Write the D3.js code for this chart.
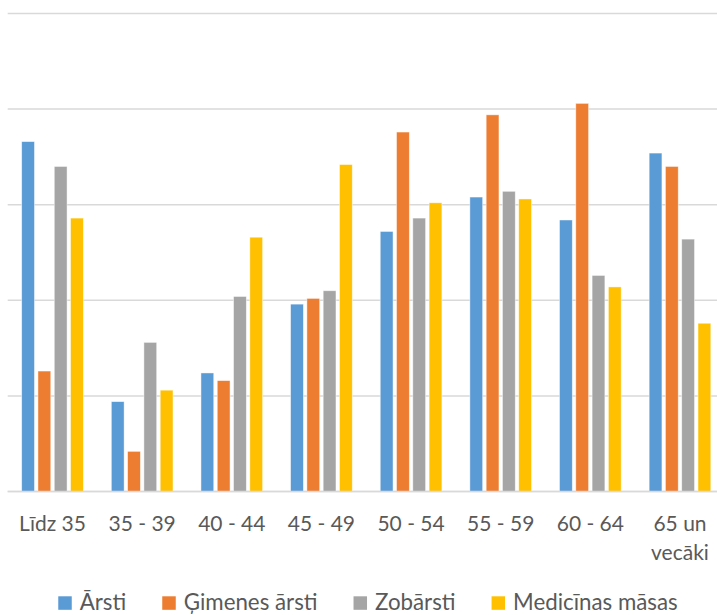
<!DOCTYPE html>
<html>
<head>
<meta charset="utf-8">
<script src="https://cdn.jsdelivr.net/npm/d3@7/dist/d3.min.js"></script>
<style>
  html, body { margin: 0; padding: 0; background: #fff; }
  svg { display: block; }
  text { font-family: Lato, "Open Sans", sans-serif; fill: #595959; }
</style>
</head>
<body>
<svg id="chart" width="717" height="615"></svg>
<script>
// ---- data ----
const categories = ["Līdz 35", "35 - 39", "40 - 44", "45 - 49", "50 - 54", "55 - 59", "60 - 64", "65 un vecāki"];
const seriesNames = ["Ārsti", "Ģimenes ārsti", "Zobārsti", "Medicīnas māsas"];
const arsti       = [18.3, 4.7, 6.2, 9.8, 13.6, 15.4, 14.2, 17.7];
const gimenes     = [6.3, 2.1, 5.8, 10.1, 18.8, 19.7, 20.3, 17.0];
const zobarsti    = [17.0, 7.8, 10.2, 10.5, 14.3, 15.7, 11.3, 13.2];
const masas       = [14.3, 5.3, 13.3, 17.1, 15.1, 15.3, 10.7, 8.8];
const yTicks      = [0, 5, 10, 15, 20, 25];
const colors      = ["#5B9BD5", "#ED7D31", "#A5A5A5", "#FFC000"];

const seriesValues = [arsti, gimenes, zobarsti, masas];
const table = categories.map((c, i) => ({
  cat: c,
  vals: seriesNames.map((s, j) => ({ series: s, value: seriesValues[j][i], color: colors[j] }))
}));

// ---- layout ----
const svg = d3.select("#chart");
const plotLeft = 7.7, plotRight = 724.8;
const yTop = 13.5, yBase = 491.5;

const x0 = d3.scaleBand().domain(categories).range([plotLeft, plotRight])
  .paddingInner(0.273).paddingOuter(0.1365);
const x1 = d3.scaleBand().domain(seriesNames).range([0, x0.bandwidth()])
  .paddingInner(0.215).paddingOuter(0.1075);
const y = d3.scaleLinear().domain([0, 25]).range([yBase, yTop]);

// gridlines
svg.append("g").selectAll("line").data(yTicks).join("line")
  .attr("x1", plotLeft).attr("x2", 717)
  .attr("y1", d => y(d)).attr("y2", d => y(d))
  .attr("stroke", "#D9D9D9").attr("stroke-width", 1.5);

// bars
const groups = svg.append("g").selectAll("g").data(table).join("g")
  .attr("transform", d => `translate(${x0(d.cat)},0)`);
groups.selectAll("rect").data(d => d.vals).join("rect")
  .attr("x", d => x1(d.series))
  .attr("width", x1.bandwidth())
  .attr("y", d => y(d.value))
  .attr("height", d => y(0) - y(d.value))
  .attr("fill", d => d.color)
  .attr("stroke", "#ffffff").attr("stroke-width", 0.75).attr("stroke-opacity", 0.6);

// redraw baseline on top
svg.append("line")
  .attr("x1", plotLeft).attr("x2", 717)
  .attr("y1", y(0)).attr("y2", y(0))
  .attr("stroke", "#D9D9D9").attr("stroke-width", 1.5);

// category labels
const fontSize = 21;
const labelSplit = { "65 un vecāki": ["65 un", "vecāki"] };
const lab = svg.append("g").selectAll("text").data(categories).join("text")
  .attr("text-anchor", "middle")
  .attr("font-size", fontSize)
  .attr("x", d => x0(d) + x0.bandwidth() / 2)
  .attr("y", 530.5);
lab.each(function(d) {
  const lines = labelSplit[d] || [d];
  const t = d3.select(this);
  lines.forEach((ln, i) => {
    t.append("tspan").attr("x", x0(d) + x0.bandwidth() / 2)
      .attr("dy", i === 0 ? 0 : 29.5).text(ln);
  });
});

// legend
const legend = svg.append("g");
const sq = 13.5, gapText = 8, gapItem = 36;
const legBase = 609.5;
const items = legend.selectAll("g").data(seriesNames).join("g");
items.append("rect").attr("width", sq).attr("height", sq)
  .attr("y", legBase + 0.3 - sq).attr("fill", (d, i) => colors[i]);
items.append("text").attr("font-size", 22.3)
  .attr("x", sq + gapText).attr("y", legBase).text(d => d);
let widths = [];
items.each(function() { widths.push(this.getBBox().width); });
const total = d3.sum(widths) + gapItem * (widths.length - 1);
let cx = 368 - total / 2;
items.attr("transform", (d, i) => {
  const t = `translate(${cx},0)`;
  cx += widths[i] + gapItem;
  return t;
});
</script>
</body>
</html>
